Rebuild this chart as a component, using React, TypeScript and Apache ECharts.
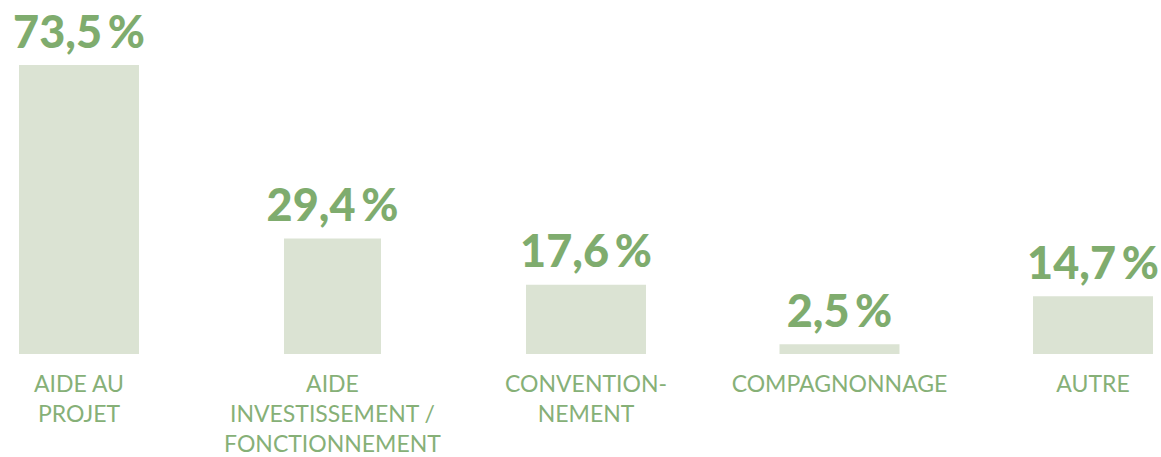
import React, { useEffect, useRef } from "react";
import * as echarts from "echarts";

const categories = [
  "AIDE AU\nPROJET",
  "AIDE\nINVESTISSEMENT /\nFONCTIONNEMENT",
  "CONVENTION-\nNEMENT",
  "COMPAGNONNAGE",
  "AUTRE",
];
const mainValues: (number | string)[] = [73.5, "-", 17.6, 2.5, 14.7];
const narrowValues: (number | string)[] = ["-", 29.4, "-", "-", "-"];

const BAR = "#dbe3d3";
const VALUE = "#7fac6e";
const LABEL = "#86b077";

export default function App() {
  const ref = useRef<HTMLDivElement>(null);
  useEffect(() => {
    if (!ref.current) return;
    const chart = echarts.init(ref.current, null, { renderer: "svg" });
    const valueLabel = {
      show: true,
      position: "top",
      distance: 12,
      color: VALUE,
      fontFamily: "Lato",
      fontWeight: 900,
      fontSize: 45,
      formatter: (p: any) => p.value.toFixed(1).replace(".", ",") + "\u2009%",
    };
    const xBase = {
      type: "category",
      data: categories,
      boundaryGap: false,
      axisLine: { show: false },
      axisTick: { show: false },
      splitLine: { show: false },
    };
    chart.setOption({
      animation: false,
      grid: { left: 79, right: 68, top: 65, bottom: 103, outerBoundsMode: "none", containLabel: false },
      xAxis: [
        {
          ...xBase,
          position: "bottom",
          axisLabel: {
            interval: 0,
            margin: 14,
            color: LABEL,
            fontFamily: "Lato",
            fontSize: 23,
            lineHeight: 30,
            align: "center",
          },
        },
        { ...xBase, position: "bottom", axisLabel: { show: false } },
      ],
      yAxis: { type: "value", min: 0, max: 73.5, show: false, splitLine: { show: false } },
      series: [
        {
          type: "bar",
          xAxisIndex: 0,
          data: mainValues,
          barWidth: 120,
          clip: false,
          itemStyle: { color: BAR },
          label: valueLabel,
        },
        {
          type: "bar",
          xAxisIndex: 1,
          data: narrowValues,
          barWidth: 97,
          clip: false,
          itemStyle: { color: BAR },
          label: valueLabel,
        },
      ],
    });
    return () => chart.dispose();
  }, []);
  return (
    <div
      ref={ref}
      style={{ position: "fixed", left: 0, top: 0, width: 1161, height: 457, background: "#fff" }}
    />
  );
}
